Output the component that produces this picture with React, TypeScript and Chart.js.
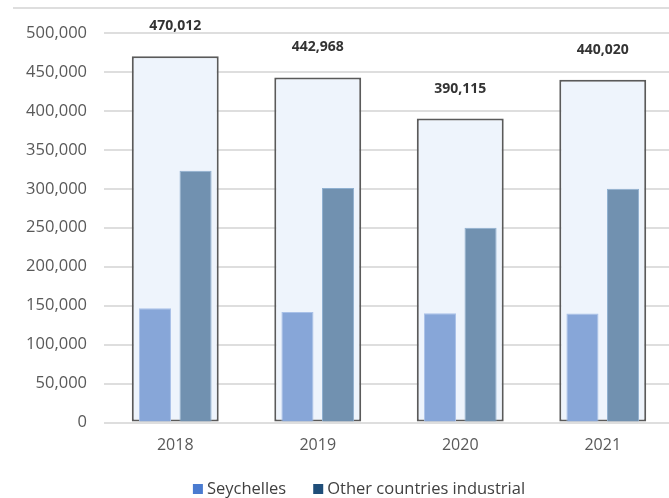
import React, { useEffect, useRef } from "react";
import { Chart, registerables } from "chart.js";

Chart.register(...registerables);

const years = ["2018", "2019", "2020", "2021"];
const totals = [470012, 442968, 390115, 440020];
const seychelles = [146800, 141800, 140100, 139800];
const otherCountries = [323200, 301000, 250000, 300200];
const yTickMax = 500000;
const yTickStep = 50000;
const legendNames = ["Seychelles", "Other countries industrial"];
const legendColors = ["#4a7bd0", "#1f4e79"];

const FONT = "'Open Sans', 'Noto Sans', sans-serif";

const topLabelPlugin = {
  id: "topLabels",
  beforeDraw(chart: any) {
    const ctx = chart.ctx;
    ctx.save();
    ctx.strokeStyle = "#dedede";
    ctx.lineWidth = 2;
    ctx.beginPath();
    ctx.moveTo(13, 8);
    ctx.lineTo(chart.width, 8);
    ctx.stroke();
    ctx.restore();
  },
  afterDatasetsDraw(chart: any) {
    const ctx = chart.ctx;
    const meta = chart.getDatasetMeta(0);
    ctx.save();
    ctx.font = `bold 14px ${FONT}`;
    ctx.fillStyle = "#333333";
    ctx.textAlign = "center";
    ctx.textBaseline = "middle";
    meta.data.forEach((el: any, i: number) => {
      const v = chart.data.datasets[0].data[i] as number;
      ctx.fillText(v.toLocaleString("en-US"), el.x, el.y - 30);
    });
    ctx.restore();
  },
  afterDraw(chart: any) {
    const ctx = chart.ctx;
    ctx.save();
    ctx.font = `16.5px ${FONT}`;
    ctx.textBaseline = "middle";
    ctx.textAlign = "left";
    const box = 10;
    const gapText = 4;
    const gapItem = 27;
    const widths = legendNames.map((n) => box + gapText + ctx.measureText(n).width);
    const total = widths.reduce((a, b) => a + b, 0) + gapItem * (legendNames.length - 1);
    const cx = chart.width / 2 + 20;
    const y = 489;
    let x = cx - total / 2;
    legendNames.forEach((n, i) => {
      ctx.fillStyle = legendColors[i];
      ctx.fillRect(x, y - box / 2, box, box);
      ctx.fillStyle = "#404040";
      ctx.fillText(n, x + box + gapText, y);
      x += widths[i] + gapItem;
    });
    ctx.restore();
  },
};

export default function App() {
  const ref = useRef<HTMLCanvasElement>(null);
  useEffect(() => {
    if (!ref.current) return;
    const chart = new Chart(ref.current, {
      type: "bar",
      data: {
        labels: years,
        datasets: [
          {
            label: "Total",
            data: totals,
            backgroundColor: "#eef4fc",
            borderColor: "#5a5a5a",
            borderWidth: 2,
            borderSkipped: false,
            grouped: false,
            categoryPercentage: 0.61,
            barPercentage: 1,
            order: 2,
          } as any,
          {
            label: legendNames[0],
            data: seychelles,
            backgroundColor: "#87a6d8",
            borderColor: "#a9c1e8",
            borderWidth: 1,
            categoryPercentage: 0.57,
            barPercentage: 0.79,
            order: 1,
          },
          {
            label: legendNames[1],
            data: otherCountries,
            backgroundColor: "#7191b0",
            borderColor: "#8fb0d0",
            borderWidth: 1,
            categoryPercentage: 0.57,
            barPercentage: 0.79,
            order: 1,
          },
        ],
      },
      options: {
        responsive: false,
        animation: false,
        layout: { padding: { left: 0, right: 4, top: 33, bottom: 38.5 } },
        plugins: {
          tooltip: { enabled: false },
          legend: { display: false },
        },
        scales: {
          x: {
            grid: { display: false },
            border: { display: false },
            ticks: {
              font: { family: FONT, size: 16 },
              color: "#595959",
              padding: 5,
            },
            afterFit(scale: any) {
              scale.height = 37;
            },
          },
          y: {
            min: 0,
            max: yTickMax,
            grid: { color: "#dedede", lineWidth: 2, drawTicks: false },
            border: { display: false },
            ticks: {
              stepSize: yTickStep,
              font: { family: FONT, size: 16.5 },
              color: "#595959",
              padding: 17,
              callback: (v: any) => Number(v).toLocaleString("en-US"),
            },
            afterFit(scale: any) {
              scale.width = 104;
            },
          },
        },
      },
      plugins: [topLabelPlugin],
    });
    return () => chart.destroy();
  }, []);

  return (
    <div style={{ position: "fixed", left: 0, top: 0, width: 669, height: 498, overflow: "hidden", background: "#fff" }}>
      <canvas ref={ref} width={678} height={498} style={{ display: "block" }} />
    </div>
  );
}
